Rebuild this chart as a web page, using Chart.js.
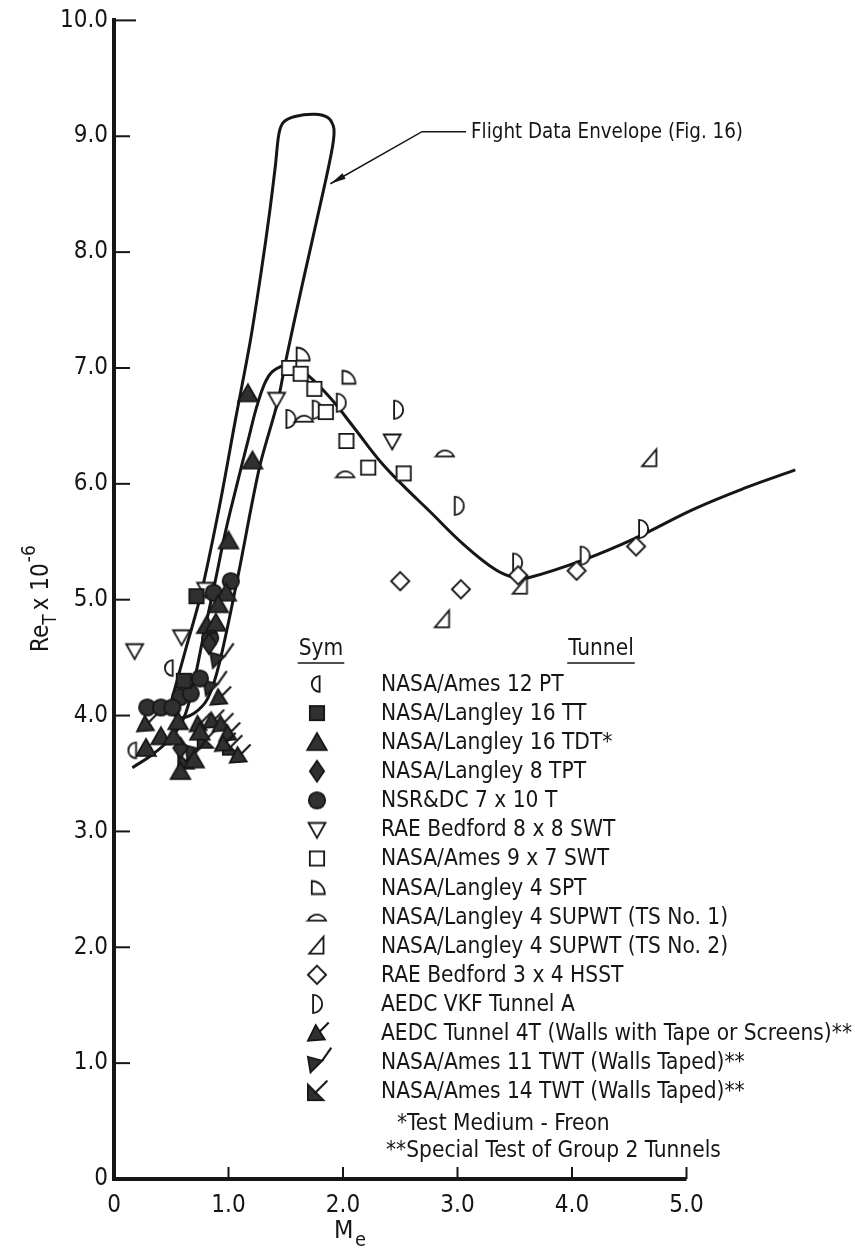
<!DOCTYPE html>
<html>
<head>
<meta charset="utf-8">
<script src="https://cdn.jsdelivr.net/npm/chart.js@4.4.0/dist/chart.umd.min.js"></script>
<style>
  html, body { margin: 0; padding: 0; background: #fff; }
  #chart { display: block; }
</style>
</head>
<body>
<canvas id="chart" width="855" height="1248"></canvas>
<script>
// axis ticks
const xTicks = [0, 1, 2, 3, 4, 5];
const xTickLabels = ['0', '1.0', '2.0', '3.0', '4.0', '5.0'];
const yTicks = [0, 1, 2, 3, 4, 5, 6, 7, 8, 9, 10];
const yTickLabels = ['0', '1.0', '2.0', '3.0', '4.0', '5.0', '6.0', '7.0', '8.0', '9.0', '10.0'];

// tunnel data, [Me, ReT x 10^-6]
const ames12PT = [[0.49, 4.41], [0.17, 3.70]];
const langley16TT = [[0.72, 5.03], [0.61, 4.30]];
const langley16TDT = [[1.17, 6.78], [1.21, 6.20], [1.00, 5.51], [0.98, 5.06], [0.91, 4.96], [0.81, 4.78],
  [0.89, 4.80], [0.28, 3.72], [0.41, 3.82], [0.52, 3.82], [0.58, 3.52], [0.70, 3.62], [0.75, 3.86], [0.56, 3.95]];
const langley8TPT = [[0.83, 4.62], [0.58, 3.72]];
const nsrdc7x10 = [[1.02, 5.16], [0.87, 5.06], [0.84, 4.67], [0.75, 4.32], [0.58, 4.16], [0.67, 4.19],
  [0.29, 4.07], [0.41, 4.07], [0.51, 4.07]];
const rae8x8 = [[0.18, 4.56], [0.59, 4.68], [0.80, 5.09], [1.42, 6.73], [2.43, 6.37]];
const ames9x7 = [[1.53, 7.00], [1.63, 6.95], [1.75, 6.82], [1.85, 6.62], [2.03, 6.37], [2.22, 6.14], [2.53, 6.09]];
const langley4SPT = [[1.64, 7.12], [2.04, 6.92]];
const supwtTS1 = [[1.66, 6.57], [2.02, 6.09], [2.89, 6.27]];
const supwtTS2 = [[4.68, 6.22], [3.55, 5.12], [2.87, 4.83]];
const rae3x4 = [[2.50, 5.16], [3.03, 5.09], [3.53, 5.21], [4.04, 5.25], [4.56, 5.46]];
const vkfA = [[1.54, 6.56], [1.77, 6.64], [1.98, 6.70], [2.48, 6.64], [3.01, 5.81], [3.52, 5.32], [4.11, 5.38], [4.62, 5.61]];
const aedc4T = [[0.28, 3.93], [0.74, 3.93], [0.86, 3.96], [0.94, 3.93], [1.00, 3.85], [0.96, 3.76], [1.09, 3.66], [0.92, 4.16]];
const ames11TWT = [[0.92, 4.50], [0.86, 4.26], [0.70, 3.70]];
const ames14TWT = [[0.81, 3.80], [1.03, 3.74], [0.64, 3.62]];

// faired curve through the tunnel data
const fairedCurve = [[0.16, 3.55], [0.33, 3.66], [0.48, 3.79], [0.61, 3.98], [0.70, 4.30], [0.79, 4.73], [0.88, 5.14],
  [0.97, 5.57], [1.06, 5.94], [1.17, 6.37], [1.26, 6.71], [1.35, 6.93], [1.45, 7.01], [1.56, 7.02], [1.69, 6.94],
  [1.89, 6.74], [2.10, 6.48], [2.32, 6.20], [2.53, 5.98], [2.75, 5.77], [3.05, 5.48], [3.33, 5.26], [3.50, 5.19],
  [3.62, 5.19], [4.09, 5.34], [4.55, 5.53], [5.06, 5.78], [5.50, 5.96], [5.95, 6.12]];

// flight data envelope (closed)
const flightEnvelope = [[0.48, 4.05], [0.62, 4.55], [0.76, 5.05], [0.92, 5.80], [1.06, 6.55], [1.19, 7.23], [1.29, 7.86],
  [1.36, 8.35], [1.41, 8.75], [1.44, 9.02], [1.48, 9.12], [1.58, 9.17], [1.75, 9.19], [1.87, 9.16], [1.92, 9.07],
  [1.91, 8.92], [1.84, 8.58], [1.64, 7.70], [1.50, 7.06], [1.43, 6.71], [1.27, 6.14], [1.08, 5.19], [0.92, 4.45],
  [0.82, 4.15], [0.70, 4.02], [0.57, 3.98], [0.48, 4.05]];

const arrowTip = [1.89, 8.59];
const arrowKnee = [2.69, 9.04];

const FONT = '"DejaVu Sans Condensed", "Liberation Sans Narrow", "DejaVu Sans", sans-serif';
const INK = '#161616';
const DARK = '#303030';
const SYM_SCALE = 1.3;

// marker glyphs drawn on small canvases, used as point styles
function makeSym(kind) {
  const c = document.createElement('canvas');
  c.width = 34; c.height = 34;
  const g = c.getContext('2d');
  g.translate(17, 17);
  g.scale(SYM_SCALE, SYM_SCALE);
  g.lineWidth = 1.4;
  g.strokeStyle = INK;
  g.fillStyle = '#fff';
  let filled = false;
  g.beginPath();
  switch (kind) {
    case 'halfLeft': g.arc(2, 0, 6, Math.PI / 2, Math.PI * 1.5); g.closePath(); break;
    case 'square': g.rect(-5.5, -5.5, 11, 11); filled = true; break;
    case 'triUp': g.moveTo(0, -7); g.lineTo(7.5, 6); g.lineTo(-7.5, 6); g.closePath(); filled = true; break;
    case 'diamond': g.moveTo(0, -8); g.lineTo(5.5, 0); g.lineTo(0, 8); g.lineTo(-5.5, 0); g.closePath(); filled = true; break;
    case 'circle': g.arc(0, 0, 6.3, 0, Math.PI * 2); filled = true; break;
    case 'triDown': g.moveTo(-6.5, -5); g.lineTo(6.5, -5); g.lineTo(0, 6.5); g.closePath(); break;
    case 'squareOpen': g.rect(-5.5, -5.5, 11, 11); break;
    case 'quarter': g.moveTo(-4, 5); g.lineTo(-4, -5); g.arc(-4, 5, 10, -Math.PI / 2, 0); g.closePath(); break;
    case 'dome': g.moveTo(-7, 3); g.arc(0, 6, 7.6, Math.PI * 1.13, Math.PI * 1.87); g.closePath(); break;
    case 'rightTri': g.moveTo(-6, 6); g.lineTo(5, 6); g.lineTo(5, -7); g.closePath(); break;
    case 'diamondOpen': g.moveTo(0, -7); g.lineTo(7, 0); g.lineTo(0, 7); g.lineTo(-7, 0); g.closePath(); break;
    case 'halfRight': g.arc(-3, 0, 7, -Math.PI / 2, Math.PI / 2); g.closePath(); break;
    case 'flag4T':
      g.moveTo(-7, 6); g.lineTo(-1, -6); g.lineTo(6, 5); g.closePath(); filled = true; break;
    case 'check11':
      g.moveTo(-7, -4); g.lineTo(4, -1); g.lineTo(-5, 8); g.closePath(); filled = true; break;
    case 'flag14':
      g.moveTo(-7, -5); g.lineTo(-7, 7); g.lineTo(5, 7); g.closePath(); filled = true; break;
  }
  if (filled) { g.fillStyle = DARK; }
  g.fill();
  g.stroke();
  g.lineWidth = 1.6;
  g.beginPath();
  if (kind === 'flag4T') { g.moveTo(2, -1); g.lineTo(9, -8); }
  if (kind === 'check11') { g.moveTo(4, -1); g.lineTo(11, -11); }
  if (kind === 'flag14') { g.moveTo(-2, 2); g.lineTo(8, -8); }
  g.stroke();
  return c;
}

const series = [
  { label: 'NASA/Ames 12 PT', data: ames12PT, sym: 'halfLeft' },
  { label: 'NASA/Langley 16 TT', data: langley16TT, sym: 'square' },
  { label: 'NASA/Langley 16 TDT*', data: langley16TDT, sym: 'triUp' },
  { label: 'NASA/Langley 8 TPT', data: langley8TPT, sym: 'diamond' },
  { label: 'NSR&DC 7 x 10 T', data: nsrdc7x10, sym: 'circle' },
  { label: 'RAE Bedford 8 x 8 SWT', data: rae8x8, sym: 'triDown' },
  { label: 'NASA/Ames 9 x 7 SWT', data: ames9x7, sym: 'squareOpen' },
  { label: 'NASA/Langley 4 SPT', data: langley4SPT, sym: 'quarter' },
  { label: 'NASA/Langley 4 SUPWT (TS No. 1)', data: supwtTS1, sym: 'dome' },
  { label: 'NASA/Langley 4 SUPWT (TS No. 2)', data: supwtTS2, sym: 'rightTri' },
  { label: 'RAE Bedford 3 x 4 HSST', data: rae3x4, sym: 'diamondOpen' },
  { label: 'AEDC VKF Tunnel A', data: vkfA, sym: 'halfRight' },
  { label: 'AEDC Tunnel 4T (Walls with Tape or Screens)**', data: aedc4T, sym: 'flag4T' },
  { label: 'NASA/Ames 11 TWT (Walls Taped)**', data: ames11TWT, sym: 'check11' },
  { label: 'NASA/Ames 14 TWT (Walls Taped)**', data: ames14TWT, sym: 'flag14' }
];
series.forEach(s => { s.canvas = makeSym(s.sym); });

const toXY = arr => arr.map(p => ({ x: p[0], y: p[1] }));

const datasets = series.map(s => ({
  label: s.label,
  data: toXY(s.data),
  pointStyle: s.canvas,
  pointRadius: 7,
  showLine: false,
  order: 1
}));
datasets.push({
  label: 'faired curve',
  data: toXY(fairedCurve),
  showLine: true, pointRadius: 0, borderColor: INK, borderWidth: 3, tension: 0.4,
  clip: false, order: 5
});
datasets.push({
  label: 'Flight Data Envelope',
  data: toXY(flightEnvelope),
  showLine: true, pointRadius: 0, borderColor: INK, borderWidth: 3, tension: 0.3,
  clip: false, order: 6
});

// text helper: draws text squeezed to a target width
function fitText(ctx, str, x, y, sx, align) {
  ctx.save();
  ctx.translate(x, y);
  ctx.scale(sx, 1);
  ctx.textAlign = align || 'left';
  ctx.fillText(str, 0, 0);
  ctx.restore();
}

const decor = {
  id: 'decor',
  afterDraw(chart) {
    const { ctx, chartArea: a } = chart;
    const xs = chart.scales.x, ys = chart.scales.y;
    ctx.save();
    ctx.strokeStyle = INK;
    ctx.fillStyle = INK;
    // x axis line, only as far as 5.0
    const x0 = xs.getPixelForValue(0), x5 = xs.getPixelForValue(5);
    ctx.lineWidth = 4;
    ctx.beginPath(); ctx.moveTo(x0 - 2, a.bottom); ctx.lineTo(x5, a.bottom); ctx.stroke();
    // inward tick marks
    ctx.lineWidth = 2;
    yTicks.forEach(v => {
      if (v === 0) return;
      const py = ys.getPixelForValue(v);
      ctx.beginPath(); ctx.moveTo(a.left, py); ctx.lineTo(a.left + (v === 10 ? 22 : 16), py); ctx.stroke();
    });
    xTicks.forEach(v => {
      if (v === 0) return;
      const px = xs.getPixelForValue(v);
      ctx.beginPath(); ctx.moveTo(px, a.bottom); ctx.lineTo(px, a.bottom - 12); ctx.stroke();
    });

    // axis titles
    ctx.textBaseline = 'alphabetic';
    ctx.save();
    ctx.translate(48, 652);
    ctx.rotate(-Math.PI / 2);
    ctx.font = '24px ' + FONT;
    ctx.textAlign = 'left';
    let cx = 0;
    ctx.fillText('Re', cx, 0); cx += ctx.measureText('Re').width;
    ctx.font = '19px ' + FONT;
    ctx.fillText('T', cx, 8); cx += ctx.measureText('T').width + 4;
    ctx.font = '24px ' + FONT;
    ctx.fillText('x 10', cx, 0); cx += ctx.measureText('x 10').width + 1;
    ctx.font = '19px ' + FONT;
    ctx.fillText('-6', cx, -13);
    ctx.restore();

    ctx.font = '25px ' + FONT;
    ctx.textAlign = 'left';
    ctx.fillText('M', 334, 1238);
    ctx.font = '20px ' + FONT;
    ctx.fillText('e', 355, 1246);

    // flight envelope label and arrow
    const tx = xs.getPixelForValue(arrowTip[0]), ty = ys.getPixelForValue(arrowTip[1]);
    const kx = xs.getPixelForValue(arrowKnee[0]), ky = ys.getPixelForValue(arrowKnee[1]);
    ctx.lineWidth = 1.5;
    ctx.beginPath(); ctx.moveTo(kx + 44, ky); ctx.lineTo(kx, ky); ctx.lineTo(tx, ty); ctx.stroke();
    const ang = Math.atan2(ty - ky, tx - kx);
    ctx.beginPath();
    ctx.moveTo(tx, ty);
    ctx.lineTo(tx - 16 * Math.cos(ang - 0.2), ty - 16 * Math.sin(ang - 0.2));
    ctx.lineTo(tx - 16 * Math.cos(ang + 0.2), ty - 16 * Math.sin(ang + 0.2));
    ctx.closePath(); ctx.fill();
    ctx.font = '22px ' + FONT;
    ctx.textBaseline = 'middle';
    const lbl = 'Flight Data Envelope (Fig. 16)';
    fitText(ctx, lbl, kx + 49, ky + 1, 272 / ctx.measureText(lbl).width);

    // symbol key
    ctx.font = '23px ' + FONT;
    const longest = series[12].label;
    const sx = 471 / ctx.measureText(longest).width;
    const headY = 649;
    fitText(ctx, 'Sym', 321, headY, sx, 'center');
    fitText(ctx, 'Tunnel', 601, headY, sx, 'center');
    const wSym = ctx.measureText('Sym').width * sx, wTun = ctx.measureText('Tunnel').width * sx;
    ctx.lineWidth = 1.5;
    ctx.beginPath();
    ctx.moveTo(321 - wSym / 2 - 1, headY + 14); ctx.lineTo(321 + wSym / 2 + 1, headY + 14);
    ctx.moveTo(601 - wTun / 2 - 1, headY + 14); ctx.lineTo(601 + wTun / 2 + 1, headY + 14);
    ctx.stroke();
    series.forEach((s, i) => {
      const ry = 684 + 29.08 * i;
      ctx.drawImage(s.canvas, 317 - 17, ry - 17);
      fitText(ctx, s.label, 381, ry + 1, sx);
    });
    fitText(ctx, '*Test Medium - Freon', 397, 1124, sx);
    fitText(ctx, '**Special Test of Group 2 Tunnels', 386, 1151, sx);
    ctx.restore();
  }
};

new Chart(document.getElementById('chart').getContext('2d'), {
  type: 'scatter',
  data: { datasets },
  options: {
    responsive: false,
    animation: false,
    devicePixelRatio: 1,
    layout: { padding: { top: 19, right: 8.2, left: 0, bottom: 0 } },
    plugins: { legend: { display: false }, tooltip: { enabled: false } },
    scales: {
      x: {
        type: 'linear', min: 0, max: 6.4,
        afterFit: s => { s.height = 69; },
        afterBuildTicks: s => { s.ticks = xTicks.map(v => ({ value: v })); },
        ticks: {
          autoSkip: false, maxRotation: 0, color: INK, padding: 12,
          font: { family: FONT, size: 24 },
          callback: (v, i) => xTickLabels[i]
        },
        grid: { display: false, drawTicks: false },
        border: { display: false }
      },
      y: {
        type: 'linear', min: 0, max: 10,
        afterFit: s => { s.width = 114; },
        afterBuildTicks: s => { s.ticks = yTicks.map(v => ({ value: v })); },
        ticks: {
          autoSkip: false, color: INK, padding: 6,
          font: { family: FONT, size: 24 },
          callback: (v, i) => yTickLabels[i]
        },
        grid: { display: false, drawTicks: false },
        border: { display: true, width: 4, color: INK }
      }
    }
  },
  plugins: [decor]
});
</script>
</body>
</html>
